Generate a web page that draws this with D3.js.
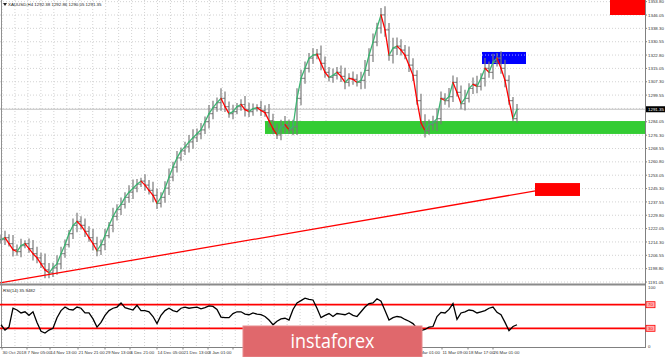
<!DOCTYPE html>
<html><head><meta charset="utf-8">
<script src="https://cdn.jsdelivr.net/npm/d3@7"></script>
<style>body{margin:0;background:#fff}svg{display:block;font-family:"Liberation Sans",Arial,sans-serif}</style>
</head><body><svg id="c" width="665" height="357"></svg>
<script>
// ---- data ----
const closes = [1215.7,1216.8,1213.3,1209.8,1208.7,1212.2,1213.3,1210.4,1207.5,1205.1,1201.6,1198.1,1196.4,1199.3,1201.6,1207.5,1212.7,1219.2,1223.9,1226.2,
1223.9,1220.4,1216.8,1213.3,1209.2,1212.7,1218.0,1223.9,1229.1,1233.2,1236.1,1240.2,1243.2,1245.5,1247.8,1249.6,1247.3,1244.3,1241.4,1236.7,
1240.2,1245.5,1251.9,1257.8,1263.1,1267.2,1269.5,1272.4,1274.8,1277.1,1279.4,1284.1,1288.8,1292.3,1295.2,1297.6,1292.9,1288.8,1290.0,1292.9,
1294.1,1291.1,1290.0,1291.7,1292.3,1290.6,1289.4,1284.7,1280.0,1276.5,1281.2,1282.4,1279.4,1281.2,1297.6,1309.3,1315.1,1321.0,1322.7,1323.3,
1318.0,1312.8,1309.9,1311.0,1312.8,1310.4,1306.9,1309.3,1308.7,1306.9,1308.1,1313.9,1322.7,1330.3,1338.5,1346.1,1337.4,1322.7,1326.8,1328.0,
1325.7,1322.7,1316.9,1311.0,1296.4,1283.5,1278.9,1282.4,1283.5,1285.9,1297.6,1296.4,1298.7,1306.9,1301.1,1294.6,1297.6,1303.4,1305.8,1304.6,
1309.3,1315.1,1312.8,1318.6,1321.0,1315.1,1308.1,1296.4,1285.9,1291.35];
const wicks = [3,4,2,5,3,4,2,3,5,4,3,6,4,3,5,4,3,2,4,5,3,4,3,5,4,3,4,2,5,3,4,3,4,5,3,2,4,3,5,4,
3,4,5,3,4,2,3,4,5,3,4,3,5,4,3,6,4,3,4,2,3,5,4,3,2,4,3,5,4,3,4,5,3,4,6,5,4,3,4,3,
5,4,3,4,3,4,5,3,4,3,5,6,4,5,3,4,5,4,6,5,4,3,5,4,3,4,5,3,4,6,4,3,5,4,3,4,5,3,4,5,
3,6,4,5,3,4,5,3,2,3];
const rsi = [36,27,32,64,61,56,58,52,58,40,25,22,27,30,48,60,66,62,61,66,
64,56,56,46,32,40,52,60,64,66,73,65,63,61,69,60,60,58,50,38,
52,60,64,60,58,64,66,64,65,66,63,65,68,67,62,49,48,48,55,58,
58,54,53,56,54,53,50,44,36,42,46,47,44,62,73,77,81,79,78,64,
48,52,55,50,55,54,53,56,52,50,58,66,72,73,80,76,60,44,48,50,
49,45,42,38,30,26,28,32,33,50,57,56,62,72,45,56,58,61,60,56,
58,60,64,66,57,53,40,26,33,36];
const priceTicks = [1353.80,1346.05,1338.30,1330.55,1322.80,1315.05,1307.30,1299.55,1291.80,1284.05,1276.30,
1268.55,1260.80,1253.05,1245.30,1237.55,1229.80,1222.05,1214.30,1206.55,1198.80,1191.05];
const dateLabels = ["30 Oct 2018","7 Nov 05:00","14 Nov 13:00","21 Nov 21:00","29 Nov 13:00","6 Dec 21:00","14 Dec 05:00",
"21 Dec 13:00","3 Jan 01:00","9 Jan 17:00","18 Jan 01:00","25 Jan 09:00","1 Feb 17:00","11 Feb 01:00","18 Feb 09:00",
"25 Feb 17:00","4 Mar 01:00","11 Mar 09:00","18 Mar 17:00","26 Mar 01:00"];
const dateBars = [0.5,6.75,12.5,19.5,26.25,32.5,39.25,45.75,52,58.25,64.75,71.25,77.75,84.25,90.75,97.25,104,110.5,117,123.25];
const rsiLevels = [70,30];
const rsiTicks = [100,0];
const currentPrice = 1291.35;
const greenZone = {b0:66.25,b1:161.25,p0:1284.5,p1:1277.0};
const blueZone  = {b0:120.5,b1:131.5,p0:1324.6,p1:1317.6};
const redZone1  = {b0:152.5,b1:161.25,p0:1354.8,p1:1346.05};
const redZone2  = {b0:133.75,b1:145,p0:1248.5,p1:1241.0};
const trend = [[0,1190.5],[140,1246.4]];
const header = "XAUUSD,H4  1292.38 1292.86 1290.05 1291.35";
const rsiTitle = "RSI(14) 35.9482";
const logoText = "instaforex";

// ---- scales ----
const svg = d3.select("#c");
const W = 645;
const x = d3.scaleLinear().domain([0,161.25]).range([0,W]);
const y = d3.scaleLinear().domain([1189.9,1354.76]).range([284,0]);
const yr = d3.scaleLinear().domain([0,100]).range([346,287]);
const logo = {x:243,y:326,w:179,h:31};

// grid
const grid = svg.append("g").attr("stroke","#c8c8c8").attr("stroke-dasharray","1,2").attr("stroke-width",0.8);
const gx = d3.range(0, 26).map(k => dateBars[0] + k*3.24);
grid.selectAll(".v").data(gx).join("line").attr("x1",d=>x(d)).attr("x2",d=>x(d)).attr("y1",0).attr("y2",347);
grid.selectAll(".h").data(priceTicks).join("line").attr("x1",0).attr("x2",W).attr("y1",d=>y(d)).attr("y2",d=>y(d));

// zones
function zone(z, c){
  svg.append("rect").attr("x",x(z.b0)).attr("y",y(z.p0)).attr("width",x(z.b1)-x(z.b0)).attr("height",y(z.p1)-y(z.p0)).attr("fill",c);
}
zone(greenZone,"#33cc33");
zone(blueZone,"#0000ff");
svg.append("line").attr("x1",x(blueZone.b0)).attr("x2",x(blueZone.b1)).attr("y1",y(1322.8)).attr("y2",y(1322.8))
  .attr("stroke","#c8c8ff").attr("stroke-dasharray","1,2").attr("stroke-width",0.8);
zone(redZone1,"#ff0000");
zone(redZone2,"#ff0000");

// bid line
svg.append("line").attr("x1",0).attr("x2",W).attr("y1",y(currentPrice)).attr("y2",y(currentPrice)).attr("stroke","#c0c0c0").attr("stroke-width",1);

// bars
const bars = svg.append("g").attr("stroke","#7a7a7a").attr("stroke-width",1.2);
closes.forEach((c,i)=>{
  const o = i===0 ? c : closes[i-1];
  const w = wicks[i] ?? 3;
  const hi = Math.max(o,c)+w, lo = Math.min(o,c)-w*0.8;
  const cx = x(i)+1;
  bars.append("line").attr("x1",cx).attr("x2",cx).attr("y1",y(hi)).attr("y2",y(lo));
  bars.append("line").attr("x1",cx-1.8).attr("x2",cx).attr("y1",y(o)).attr("y2",y(o));
  bars.append("line").attr("x1",cx).attr("x2",cx+1.8).attr("y1",y(c)).attr("y2",y(c));
});
// colored line
const lg = svg.append("g").attr("stroke-width",1.3).attr("fill","none");
for(let i=1;i<closes.length;i++){
  lg.append("line").attr("x1",x(i-1)+1).attr("x2",x(i)+1).attr("y1",y(closes[i-1])).attr("y2",y(closes[i]))
    .attr("stroke", closes[i]>=closes[i-1] ? "#3cb371" : "#ff0000").attr("stroke-linecap","round");
}
// trend line
svg.append("line").attr("x1",x(trend[0][0])).attr("y1",y(trend[0][1])).attr("x2",x(trend[1][0])).attr("y2",y(trend[1][1]))
  .attr("stroke","#ff0000").attr("stroke-width",1.3);

// panel separator & frame
svg.append("rect").attr("x",0).attr("y",283.5).attr("width",W).attr("height",2).attr("fill","#8a8a8a");
svg.append("line").attr("x1",1.5).attr("x2",1.5).attr("y1",0).attr("y2",347).attr("stroke","#909090");
svg.append("line").attr("x1",W+0.5).attr("x2",W+0.5).attr("y1",0).attr("y2",347.5).attr("stroke","#808080");
svg.append("line").attr("x1",0).attr("x2",W+1).attr("y1",347.5).attr("y2",347.5).attr("stroke","#808080");

// RSI
svg.selectAll(".rl").data(rsiLevels).join("line").attr("x1",0).attr("x2",W).attr("y1",d=>yr(d)).attr("y2",d=>yr(d))
  .attr("stroke","#ff0000").attr("stroke-width",1.8);
svg.append("path").datum(rsi).attr("fill","none").attr("stroke","#000").attr("stroke-width",1.3)
  .attr("d", d3.line().x((d,i)=>x(i)+1).y(d=>yr(d)));

// price axis labels
const fs = 4.4;
const ax = svg.append("g").attr("font-size",fs).attr("fill","#333");
priceTicks.forEach(p=>{
  ax.append("line").attr("x1",W).attr("x2",W+2).attr("y1",y(p)).attr("y2",y(p)).attr("stroke","#808080");
  ax.append("text").attr("x",W+3).attr("y",y(p)+1.6).text(p.toFixed(2));
});
// current price box
svg.append("rect").attr("x",W+1).attr("y",y(currentPrice)-3).attr("width",19).attr("height",6).attr("fill","#000");
svg.append("text").attr("x",W+3).attr("y",y(currentPrice)+1.6).attr("font-size",fs).attr("fill","#fff").text(currentPrice.toFixed(2));
// rsi axis
rsiTicks.forEach(v=>{
  ax.append("text").attr("x",W+3).attr("y",yr(v)+1.6).text(v);
});
rsiLevels.forEach(v=>{
  svg.append("rect").attr("x",W+1).attr("y",yr(v)-3).attr("width",9).attr("height",6).attr("fill","#ffb0b0").attr("stroke","#ff0000").attr("stroke-width",0.8);
  svg.append("text").attr("x",W+5.5).attr("y",yr(v)+1.6).attr("text-anchor","middle").attr("font-size",fs).attr("fill","#ff0000").text(v);
});
// date labels (those fully under the logo are not visible in the reference)
dateLabels.forEach((t,i)=>{
  const lx = x(dateBars[i]);
  ax.append("line").attr("x1",lx).attr("x2",lx).attr("y1",347.5).attr("y2",349.5).attr("stroke","#808080");
  if (lx > logo.x - 12 && lx + 10 < logo.x + logo.w) return;
  ax.append("text").attr("x",lx+0.5).attr("y",354).text(t);
});
// header texts
svg.append("path").attr("d","M3,3 L7,3 L5,6 Z").attr("fill","#222");
svg.append("text").attr("x",8).attr("y",6).attr("font-size",fs).attr("fill","#222").text(header);
svg.append("text").attr("x",3).attr("y",292).attr("font-size",fs).attr("fill","#222").text(rsiTitle);

// logo
svg.append("rect").attr("x",logo.x).attr("y",logo.y).attr("width",logo.w).attr("height",logo.h).attr("fill","#e0686c").attr("stroke","#e88a8c").attr("stroke-width",1);
svg.append("text").attr("x",logo.x+logo.w/2).attr("y",347.5).attr("text-anchor","middle").attr("font-family","Open Sans, sans-serif")
  .attr("font-size",20).attr("fill","#fff").attr("textLength",84).attr("lengthAdjust","spacingAndGlyphs").text(logoText);
</script></body></html>
